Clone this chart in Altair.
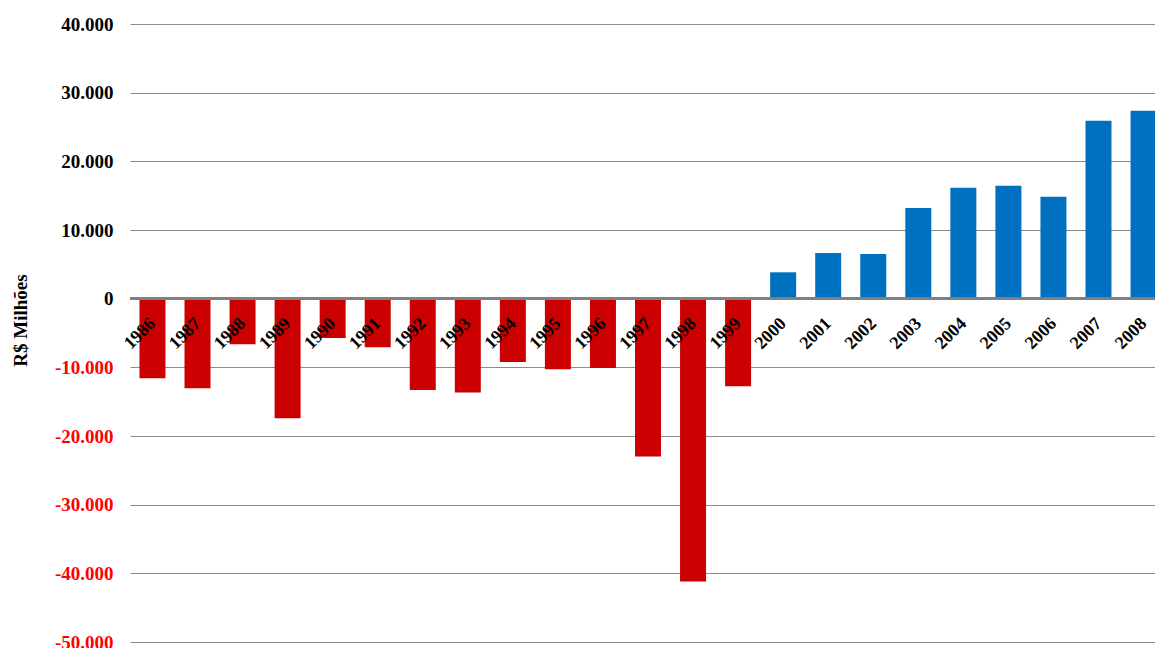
import altair as alt
import pandas as pd

anos = [1986, 1987, 1988, 1989, 1990, 1991, 1992, 1993, 1994, 1995, 1996, 1997,
        1998, 1999, 2000, 2001, 2002, 2003, 2004, 2005, 2006, 2007, 2008]
saldo = [-11600, -13060, -6650, -17430, -5730, -7090, -13310, -13650, -9230, -10290,
         -10100, -22970, -41200, -12770, 3840, 6660, 6510, 13220, 16140, 16440,
         14830, 25910, 27370]
y_ticks = [-50000, -40000, -30000, -20000, -10000, 0, 10000, 20000, 30000, 40000]

df = pd.DataFrame({"ano": [str(a) for a in anos], "saldo": saldo, "zero": [0] * len(anos)})

FONT = "Liberation Serif"

x_enc = alt.X("ano:N", sort=None, axis=None,
              scale=alt.Scale(range=[0, 1036], paddingInner=0.423, paddingOuter=0.21))
y_scale = alt.Scale(domain=[-50000, 40000], nice=False)

base = alt.Chart(df)

bars = base.mark_bar().encode(
    x=x_enc,
    y=alt.Y("saldo:Q", scale=y_scale,
            axis=alt.Axis(values=y_ticks, domain=False, ticks=False, grid=True,
                          gridColor="#8c8c8c", gridWidth=1, gridOpacity=1,
                          labelFont=FONT, labelFontWeight="bold", labelFontSize=19,
                          labelPadding=17,
                          labelColor=alt.ExprRef("datum.value < 0 ? '#FF0000' : '#000000'"),
                          labelExpr="(datum.value < 0 ? '-' : '') + replace(format(abs(datum.value), ','), ',', '.')",
                          title="R$ Milhões", titleFont=FONT, titleFontWeight="bold",
                          titleFontSize=19, titleColor="#000000", titleAngle=270,
                          titleX=-110, titleY=296, titleAlign="center",
                          titleBaseline="middle")),
    y2="zero:Q",
    color=alt.condition(alt.datum.saldo < 0, alt.value("#CC0000"), alt.value("#0070C0")),
)

zero_line = base.mark_rule(color="#808080", strokeWidth=2).encode(
    y=alt.Y("zero:Q", scale=y_scale)
)

labels = base.mark_text(angle=315, align="right", baseline="alphabetic", font=FONT,
                        fontWeight="bold", fontSize=18, color="#000000",
                        xOffset=4, yOffset=26).encode(
    x=x_enc,
    y=alt.Y("zero:Q", scale=y_scale),
    text="ano:N",
)

chart = alt.layer(bars, zero_line, labels).properties(
    width=1025, height=618,
    autosize=alt.AutoSizeParams(type="none"),
    padding={"left": 130, "top": 24, "right": 0, "bottom": 6},
    background="white",
).configure_view(stroke=None)

chart.save("out.html", embed_options={"renderer": "svg", "actions": False})
